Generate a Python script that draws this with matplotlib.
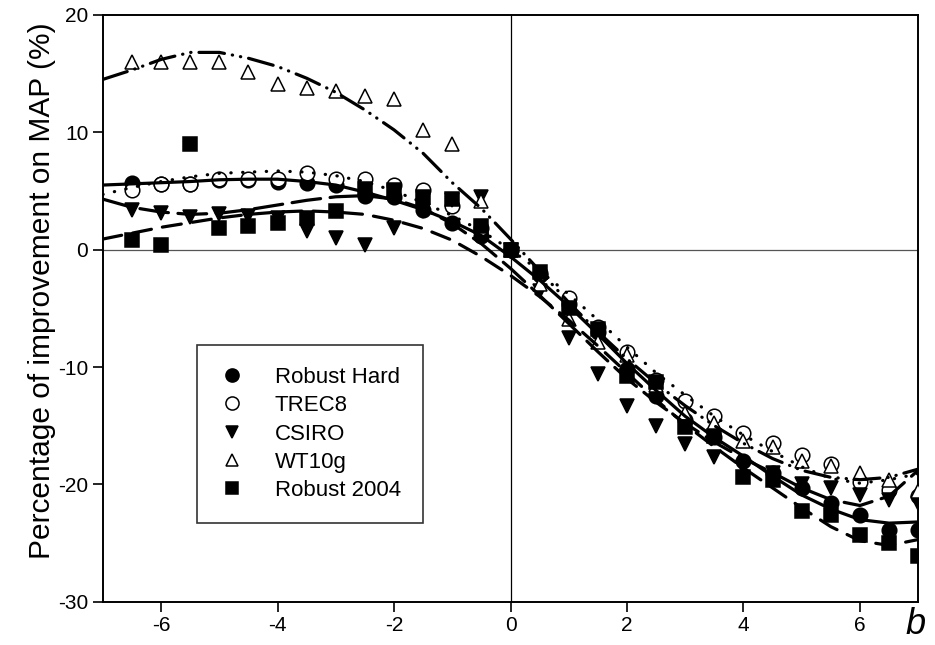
import matplotlib
matplotlib.use('Agg')
import matplotlib.pyplot as plt

plt.rcParams['font.family'] = ['Liberation Sans', 'DejaVu Sans']
plt.rcParams['axes.unicode_minus'] = False

# measured points
b = [-6.5, -6, -5.5, -5, -4.5, -4, -3.5, -3, -2.5, -2, -1.5, -1, -0.5, 0,
     0.5, 1, 1.5, 2, 2.5, 3, 3.5, 4, 4.5, 5, 5.5, 6, 6.5, 7]

robust_hard = [5.7, 5.6, 5.6, 5.9, 5.9, 5.8, 5.7, 5.5, 4.6, 4.5, 3.4, 2.3, 1.2, 0,
               -2.2, -4.6, -7.0, -10.2, -12.5, -14.5, -16.0, -18.0, -19.0, -20.3, -21.6, -22.6, -23.9, -23.9]
trec8 = [5.1, 5.6, 5.6, 6.0, 6.0, 6.0, 6.5, 6.0, 6.0, 5.5, 5.1, 3.7, 1.8, 0,
         -2.0, -4.1, -6.6, -8.75, -11.1, -12.9, -14.2, -15.6, -16.5, -17.5, -18.3, -19.8, -20.5, -21.0]
csiro = [3.4, 3.1, 2.8, 3.0, 2.9, 2.7, 1.6, 1.0, 0.4, 1.85, 3.3, 4.2, 4.5, 0,
         -3.5, -7.5, -10.6, -13.3, -15.0, -16.6, -17.7, -18.5, -19.0, -20.0, -20.3, -20.9, -21.3, -21.6]
wt10g = [16.0, 16.0, 16.0, 16.0, 15.1, 14.1, 13.8, 13.5, 13.1, 12.8, 10.2, 9.0, 4.1, 0,
         -2.9, -5.9, -7.9, -9.0, -11.5, -13.9, -14.8, -16.3, -16.8, -18.0, -18.4, -19.0, -19.6, -20.6]
robust_2004 = [0.8, 0.4, 9.0, 1.85, 2.0, 2.3, 2.7, 3.3, 5.2, 5.1, 4.5, 4.3, 2.0, 0,
               -1.9, -5.0, -6.8, -10.8, -11.3, -15.1, -15.9, -19.4, -19.6, -22.3, -22.6, -24.3, -25.0, -26.1]

# fitted curves
b_fit = [-7, -6.5, -6, -5.5, -5, -4.5, -4, -3.5, -3, -2.5, -2, -1.5, -1, -0.5, 0,
         0.5, 1, 1.5, 2, 2.5, 3, 3.5, 4, 4.5, 5, 5.5, 6, 6.5, 7]
fit_robust_hard = [5.5, 5.6, 5.7, 5.8, 5.95, 6.0, 6.0, 5.8, 5.5, 4.9, 4.2, 3.4, 2.4, 1.2, -0.6,
                   -2.6, -4.8, -7.2, -9.7, -12.0, -14.2, -16.0, -17.6, -19.3, -20.9, -22.1, -23.0, -23.3, -23.2]
fit_trec8 = [4.7, 5.3, 5.8, 6.2, 6.5, 6.6, 6.7, 6.6, 6.3, 5.8, 5.0, 4.0, 2.9, 1.6, 0.0,
             -1.8, -3.8, -6.0, -8.3, -10.5, -12.4, -14.2, -15.8, -17.2, -18.5, -19.5, -19.9, -19.6, -19.1]
fit_csiro = [4.3, 3.6, 3.2, 3.0, 3.1, 3.4, 3.8, 4.2, 4.5, 4.6, 4.3, 3.5, 2.2, 0.5, -1.6,
             -3.9, -6.3, -8.7, -11.0, -13.0, -14.8, -16.4, -17.8, -19.0, -20.3, -21.3, -21.8, -21.0, -18.8]
fit_wt10g = [14.5, 15.3, 16.2, 16.8, 16.8, 16.3, 15.6, 14.6, 13.4, 11.9, 10.2, 8.2, 5.7, 3.5, 0.9,
             -1.8, -4.5, -7.0, -9.3, -11.4, -13.3, -15.0, -16.5, -17.8, -18.8, -19.4, -19.6, -19.4, -18.7]
fit_robust_2004 = [0.9, 1.4, 1.9, 2.3, 2.7, 3.0, 3.2, 3.3, 3.2, 3.0, 2.5, 1.8, 0.8, -0.6, -2.2,
                   -4.0, -6.0, -8.2, -10.5, -12.8, -14.9, -16.8, -18.6, -20.3, -22.0, -23.6, -24.8, -25.2, -24.7]

series = [
    ('Robust Hard', robust_hard, fit_robust_hard, 'o', 'black', '-', 10.5),
    ('TREC8', trec8, fit_trec8, 'o', 'white', (0, (0.1, 3.6)), 10.5),
    ('CSIRO', csiro, fit_csiro, 'v', 'black', (0, (9, 3)), 10),
    ('WT10g', wt10g, fit_wt10g, '^', 'white', (0, (8, 2.5, 0.1, 2.5, 0.1, 2.5)), 10),
    ('Robust 2004', robust_2004, fit_robust_2004, 's', 'black', (0, (6, 3.5)), 9.5),
]

fig = plt.figure(figsize=(9.35, 6.45), dpi=100)
ax = fig.add_axes([0.110, 0.067, 0.872, 0.910])

ax.axhline(0, color='#555555', lw=0.9, zorder=1)
ax.axvline(0, color='black', lw=0.9, zorder=1)

handles = []
for name, vals, fit, mk, fc, ls, ms in series:
    h, = ax.plot(b, vals, linestyle='none', marker=mk, ms=ms, mfc=fc,
                 mec='black', mew=1.1, label=name, zorder=3)
    handles.append(h)
    ax.plot(b_fit, fit, color='black', lw=2.3, ls=ls,
            dash_capstyle='round', solid_capstyle='butt', zorder=4)

ax.set_xlim(-7, 7)
ax.set_ylim(-30, 20)
ax.set_xticks([-6, -4, -2, 0, 2, 4, 6])
ax.set_yticks([-30, -20, -10, 0, 10, 20])
ax.tick_params(direction='out', length=7, width=1.2, labelsize=15, top=False, right=False)
for s in ax.spines.values():
    s.set_linewidth(1.4)

ax.set_ylabel('Percentage of improvement on MAP (%)', fontsize=21.5)
ax.yaxis.set_label_coords(-0.058, 0.53)
ax.text(916 / 935, 0.005, 'b', transform=fig.transFigure, fontsize=26,
        style='italic', ha='center', va='bottom')

leg = ax.legend(handles=handles, loc='upper left', bbox_to_anchor=(0.1153, 0.438),
                frameon=True, fancybox=False, edgecolor='black', fontsize=16,
                handlelength=1.2, handletextpad=1.3, labelspacing=0.33,
                borderpad=1.0, borderaxespad=0, markerscale=0.9)
leg.get_frame().set_linewidth(1.2)
leg.set_zorder(5)

fig.savefig('out.png', dpi=100)
